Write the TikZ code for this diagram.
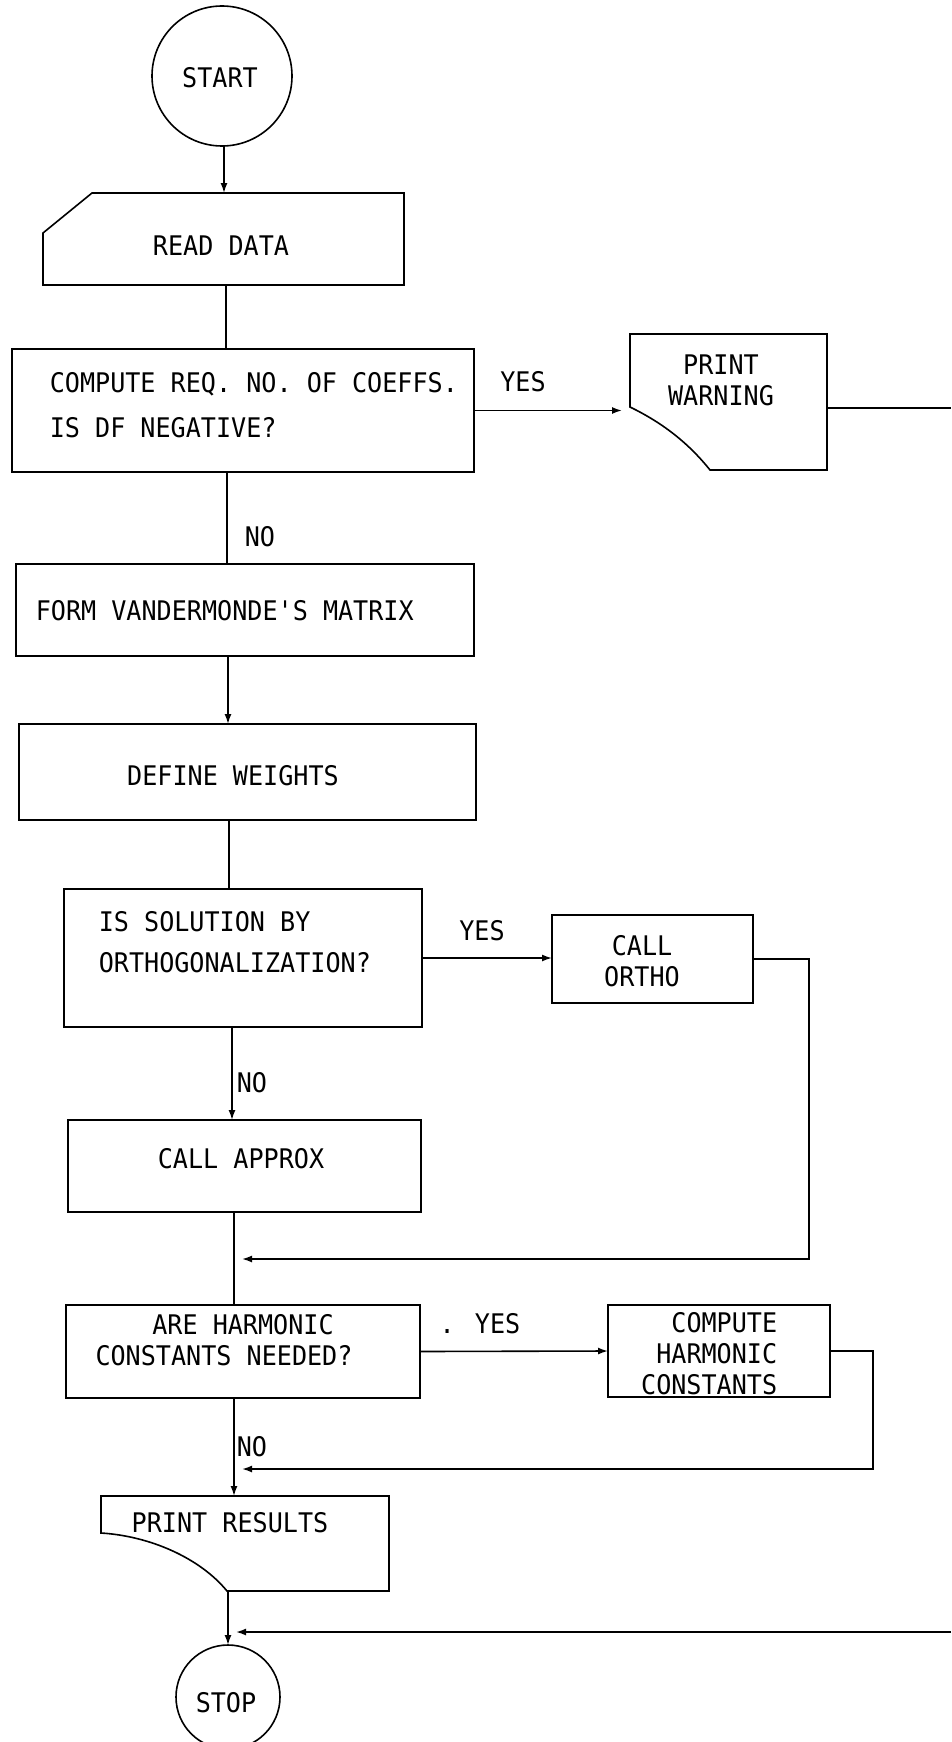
\documentclass[tikz,border=0pt]{standalone}
\usepackage{fontspec}
\newfontfamily\tw[FakeStretch=0.93]{DejaVu Sans Mono}
\usetikzlibrary{arrows.meta}
\begin{document}
\begin{tikzpicture}[x=1pt,y=-1pt,line width=1.6pt,
  box/.style={draw,rectangle,inner sep=0pt,outer sep=0pt},
  ghost/.style={rectangle,inner sep=0pt,outer sep=0pt},
  term/.style={draw,circle,inner sep=0pt,outer sep=0pt},
  txt/.style={font=\tw\fontsize{27}{31}\selectfont,inner sep=0pt},
  arr/.style={-{Latex[length=10pt,width=7pt]}}]
\useasboundingbox (0,0) rectangle (951,1742);
% spine coordinates
\coordinate (spA) at (224,0);
\coordinate (spB) at (226,0);
\coordinate (spC) at (227,0);
\coordinate (spD) at (228,0);
\coordinate (spE) at (229,0);
\coordinate (spF) at (232,0);
\coordinate (spG) at (234,0);
% nodes
\node[term,minimum size=140pt] (start) at (222,76) {};
\node[ghost,minimum width=361pt,minimum height=92pt] (read) at (223.5,239) {};
\draw (read.south west) -- ([yshift=-40pt]read.north west) -- ([xshift=49pt]read.north west) -- (read.north east) -- (read.south east) -- cycle;
\node[box,minimum width=462pt,minimum height=123pt] (compute) at (243,410.5) {};
\node[ghost,minimum width=197pt,minimum height=136pt] (pw) at (728.5,402) {};
\draw (pw.north west) -- ([yshift=-73pt]pw.north west) .. controls (665,424) and (690,445) .. ([xshift=80pt]pw.south west) -- (pw.south east) -- (pw.north east) -- cycle;
\node[box,minimum width=458pt,minimum height=92pt] (form) at (245,610) {};
\node[box,minimum width=457pt,minimum height=96pt] (define) at (247.5,772) {};
\node[box,minimum width=358pt,minimum height=138pt] (issol) at (243,958) {};
\node[box,minimum width=201pt,minimum height=88pt] (ortho) at (652.5,959) {};
\node[box,minimum width=353pt,minimum height=92pt] (approx) at (244.5,1166) {};
\node[box,minimum width=354pt,minimum height=93pt] (are) at (243,1351.5) {};
\node[box,minimum width=222pt,minimum height=92pt] (chc) at (719,1351) {};
\node[ghost,minimum width=288pt,minimum height=95pt] (pr) at (245,1543.5) {};
\draw (pr.north west) -- ([yshift=-37pt]pr.north west) .. controls (150,1536) and (200,1558) .. ([xshift=126pt]pr.south west) -- (pr.south east) -- (pr.north east) -- cycle;
\node[term,minimum size=104pt] (stop) at (228,1697) {};
% texts
\node[txt] (tstart) at (220,78) {START};
\node[txt] (tread) at (221,246) {READ DATA};
\node[txt,anchor=west,align=left] (tcomp) at (49,405) {COMPUTE REQ. NO. OF COEFFS.\\[14pt]IS DF NEGATIVE?};
\node[txt] (tyes1) at (523,382) {YES};
\node[txt,align=center] (tpw) at (721,380) {PRINT\\WARNING};
\node[txt,anchor=west] (tno1) at (244,537) {NO};
\node[txt,anchor=west] (tform) at (35,611) {FORM VANDERMONDE'S MATRIX};
\node[txt] (tdef) at (233,776) {DEFINE WEIGHTS};
\node[txt,anchor=west,align=left] (tis) at (98,942) {IS SOLUTION BY\\[10pt]ORTHOGONALIZATION?};
\node[txt] (tyes2) at (482,931) {YES};
\node[txt,align=center] (tortho) at (642,961) {CALL\\ORTHO};
\node[txt,anchor=west] (tno2) at (236,1083) {NO};
\node[txt] (tapp) at (241,1159) {CALL APPROX};
\node[txt,align=center] (tare) at (224,1340) {\hspace*{38pt}ARE HARMONIC\\CONSTANTS NEEDED?};
\node[txt] (tyes3) at (480,1324) {. YES};
\node[txt,align=right,anchor=east] (tchc) at (778,1354) {COMPUTE\\HARMONIC\\CONSTANTS};
\node[txt,anchor=west] (tno3) at (236,1447) {NO};
\node[txt] (tpr) at (230,1523) {PRINT RESULTS};
\node[txt] (tstop) at (226,1703) {STOP};
% connectors
\draw[arr] (start.south -| spA) -- (read.north -| spA);
\draw (read.south -| spB) -- (compute.north -| spB);
\draw[arr] (compute.east) -- ([xshift=-8pt]pw.west |- compute.east);
\coordinate (edgeA) at (951,408);
\draw (pw.east |- edgeA) -- (edgeA);
\draw (compute.south -| spC) -- (form.north -| spC);
\draw[arr] (form.south -| spD) -- (define.north -| spD);
\draw (define.south -| spE) -- (issol.north -| spE);
\draw[arr] (issol.east) -- (ortho.west |- issol.east);
\coordinate (rA) at (809,0);
\coordinate (rAy) at (0,1259);
\coordinate (rAend) at (242,1259);
\draw[arr] (ortho.east) -- (rA |- ortho.east) -- (rA |- rAy) -- (rAend);
\draw[arr] (issol.south -| spF) -- (approx.north -| spF);
\draw (approx.south -| spG) -- (are.north -| spG);
\draw[arr] (are.east) -- (chc.west);
\coordinate (rB) at (873,0);
\coordinate (rBy) at (0,1469);
\coordinate (rBend) at (242,1469);
\draw[arr] (chc.east) -- (rB |- chc.east) -- (rB |- rBy) -- (rBend);
\draw[arr] (are.south -| spG) -- (pr.north -| spG);
\draw[arr] (pr.south -| spD) -- (stop.north);
\coordinate (edgeB) at (951,1632);
\coordinate (rCend) at (236,1632);
\draw[arr] (edgeB) -- (rCend);
\end{tikzpicture}
\end{document}
